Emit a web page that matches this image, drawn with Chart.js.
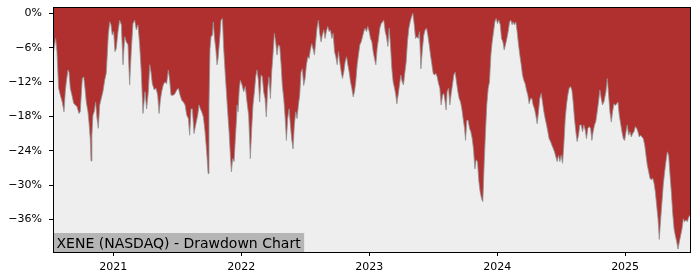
<!DOCTYPE html>
<html>
<head>
<meta charset="utf-8">
<title>XENE Drawdown Chart</title>
<script src="https://cdn.jsdelivr.net/npm/chart.js@4.4.1/dist/chart.umd.min.js"></script>
<style>
  html, body { margin: 0; padding: 0; background: #fff; }
  #chart { display: block; }
</style>
</head>
<body>
<canvas id="chart" width="700" height="280"></canvas>
<script>
// dates are decimal years, drawdown is % below the running peak
const dates = [
  2020.529, 2020.550, 2020.560, 2020.573, 2020.586, 2020.601, 2020.615, 2020.625, 2020.633, 2020.646,
  2020.654, 2020.664, 2020.677, 2020.690, 2020.703, 2020.716, 2020.732, 2020.742, 2020.758, 2020.769,
  2020.779, 2020.789, 2020.802, 2020.810, 2020.820, 2020.826, 2020.833, 2020.841, 2020.851, 2020.862,
  2020.873, 2020.883, 2020.894, 2020.906, 2020.919, 2020.933, 2020.945, 2020.953, 2020.961, 2020.972,
  2020.982, 2020.992, 2021.003, 2021.013, 2021.023, 2021.037, 2021.050, 2021.063, 2021.076, 2021.089,
  2021.102, 2021.115, 2021.128, 2021.141, 2021.154, 2021.167, 2021.180, 2021.193, 2021.206, 2021.219,
  2021.232,
  2021.248, 2021.261, 2021.274, 2021.285, 2021.295, 2021.305, 2021.321, 2021.334, 2021.347, 2021.358,
  2021.368, 2021.378, 2021.391, 2021.404, 2021.417, 2021.430, 2021.441, 2021.451, 2021.470, 2021.483,
  2021.496, 2021.509, 2021.522, 2021.535, 2021.548, 2021.561, 2021.574, 2021.587, 2021.597, 2021.608,
  2021.618, 2021.631, 2021.644, 2021.660, 2021.670, 2021.681, 2021.691, 2021.704, 2021.717, 2021.730,
  2021.741, 2021.748, 2021.756, 2021.764, 2021.775, 2021.782, 2021.790, 2021.801, 2021.811, 2021.819,
  2021.832, 2021.842, 2021.853, 2021.863, 2021.874, 2021.884, 2021.894, 2021.905, 2021.915, 2021.923,
  2021.933, 2021.944, 2021.954, 2021.965,
  2021.967, 2021.975, 2021.985, 2021.993, 2022.006, 2022.019, 2022.032, 2022.045, 2022.058, 2022.071,
  2022.082, 2022.092, 2022.103, 2022.113, 2022.123, 2022.134, 2022.144, 2022.155, 2022.165, 2022.175,
  2022.186, 2022.196, 2022.207, 2022.217, 2022.228, 2022.238, 2022.248, 2022.259, 2022.269, 2022.280,
  2022.290, 2022.301, 2022.311, 2022.321, 2022.332, 2022.342, 2022.353, 2022.363, 2022.374, 2022.384,
  2022.394, 2022.405, 2022.415, 2022.426, 2022.436, 2022.447, 2022.457, 2022.467, 2022.478, 2022.488,
  2022.499, 2022.509, 2022.520, 2022.530, 2022.540, 2022.551, 2022.561, 2022.572, 2022.582, 2022.592,
  2022.603, 2022.613, 2022.624, 2022.634, 2022.645, 2022.655, 2022.665, 2022.676,
  2022.687, 2022.697, 2022.708, 2022.718, 2022.729, 2022.739, 2022.750, 2022.760, 2022.770, 2022.781,
  2022.791, 2022.802, 2022.812, 2022.823, 2022.833, 2022.843, 2022.854, 2022.864, 2022.875, 2022.885,
  2022.895, 2022.906, 2022.916, 2022.927, 2022.937, 2022.948, 2022.958, 2022.968, 2022.979, 2022.989,
  2023.000, 2023.010, 2023.021, 2023.031, 2023.041, 2023.052, 2023.062, 2023.073, 2023.083, 2023.094,
  2023.104, 2023.114, 2023.125, 2023.135, 2023.146, 2023.156, 2023.166, 2023.177, 2023.187, 2023.198,
  2023.208, 2023.216, 2023.226, 2023.237, 2023.247, 2023.258, 2023.268, 2023.279, 2023.289, 2023.299,
  2023.310, 2023.320, 2023.331, 2023.341, 2023.352, 2023.362, 2023.372, 2023.383, 2023.393, 2023.404,
  2023.416, 2023.427, 2023.437, 2023.448, 2023.458, 2023.469, 2023.479, 2023.489, 2023.500, 2023.510,
  2023.521, 2023.531, 2023.542, 2023.552, 2023.562, 2023.573, 2023.583, 2023.594, 2023.601, 2023.609,
  2023.620, 2023.630, 2023.641, 2023.651, 2023.661, 2023.672, 2023.682, 2023.693, 2023.703, 2023.714,
  2023.724, 2023.734, 2023.745, 2023.753, 2023.763, 2023.773, 2023.784, 2023.794, 2023.805, 2023.815,
  2023.826, 2023.836, 2023.846, 2023.857, 2023.867, 2023.878, 2023.888, 2023.899, 2023.909, 2023.919,
  2023.930, 2023.940, 2023.951, 2023.961, 2023.972, 2023.982, 2023.992, 2024.003, 2024.013, 2024.024,
  2024.034, 2024.045, 2024.055, 2024.065, 2024.076, 2024.086, 2024.097, 2024.107, 2024.117,
  2024.125, 2024.135, 2024.146, 2024.156, 2024.167, 2024.177, 2024.188, 2024.198, 2024.208, 2024.219,
  2024.229, 2024.240, 2024.250, 2024.261, 2024.271, 2024.281, 2024.292, 2024.302, 2024.313, 2024.323,
  2024.333, 2024.344, 2024.354, 2024.365, 2024.375, 2024.386, 2024.396, 2024.406, 2024.417, 2024.427,
  2024.438, 2024.448, 2024.459, 2024.469, 2024.479, 2024.490, 2024.500, 2024.511, 2024.521, 2024.532,
  2024.542, 2024.552, 2024.563, 2024.573, 2024.584, 2024.594, 2024.604, 2024.615, 2024.625, 2024.636,
  2024.646, 2024.657, 2024.667, 2024.677, 2024.688, 2024.698, 2024.709, 2024.719, 2024.730, 2024.740,
  2024.750, 2024.761, 2024.771, 2024.782, 2024.792, 2024.803, 2024.813, 2024.823, 2024.834,
  2024.850, 2024.861, 2024.871, 2024.881, 2024.892, 2024.902, 2024.913, 2024.923, 2024.934, 2024.944,
  2024.954, 2024.965, 2024.975, 2024.986, 2024.996, 2025.007, 2025.017, 2025.027, 2025.038, 2025.048,
  2025.059, 2025.069, 2025.080, 2025.090, 2025.100, 2025.111, 2025.121, 2025.132, 2025.142, 2025.153,
  2025.163, 2025.173, 2025.184, 2025.194, 2025.205, 2025.215, 2025.226, 2025.236, 2025.246, 2025.257,
  2025.267, 2025.278, 2025.288, 2025.298, 2025.309, 2025.319, 2025.330, 2025.340, 2025.351, 2025.361,
  2025.371, 2025.382, 2025.392, 2025.403, 2025.413, 2025.424, 2025.434, 2025.445, 2025.455, 2025.465,
  2025.476, 2025.486, 2025.497, 2025.507
];

const drawdown = [
  -7.3, -4.4, -6.7, -13.1, -14.3, -15.5, -17.2, -13.7, -12.0, -9.9,
  -10.3, -13.1, -14.3, -15.7, -16.0, -16.3, -17.5, -17.2, -11.4, -11.1,
  -13.1, -15.5, -17.2, -19.0, -21.9, -25.8, -21.3, -17.8, -17.2, -15.5,
  -18.4, -20.1, -16.0, -14.9, -13.7, -11.7, -10.5, -7.3, -3.8, -1.5,
  -2.0, -3.8, -3.2, -6.7, -6.2, -3.2, -1.2, -2.0, -9.0, -4.1,
  -5.0, -5.5, -12.5, -6.4, -1.8, -1.2, -2.9, -2.0, -5.5, -10.3,
  -17.5,
  -13.7, -16.7, -13.7, -9.0, -10.3, -12.3, -13.4, -13.1, -14.3, -17.5,
  -15.2, -13.7, -12.5, -12.0, -12.3, -9.9, -11.7, -14.3, -14.3, -14.0,
  -13.4, -13.1, -14.3, -15.2, -15.5, -16.0, -17.8, -18.4, -21.3, -16.7,
  -16.7, -21.0, -19.5, -17.8, -16.0, -16.7, -17.2, -18.1, -20.7, -24.2,
  -28.0, -16.0, -6.2, -4.1, -3.8, -1.5, -4.1, -6.2, -9.0, -7.9,
  -4.4, -1.2, -0.9, -6.2, -10.3, -13.7, -17.2, -20.7, -24.8, -27.7,
  -25.4, -25.9, -21.9, -17.8,
  -16.0, -17.2, -13.1, -11.7, -12.5, -13.7, -12.8, -15.5, -17.8, -25.4,
  -20.1, -16.0, -13.7, -11.1, -9.9, -11.7, -15.5, -10.8, -11.1, -13.7,
  -14.9, -18.1, -13.1, -11.1, -14.9, -10.3, -7.3, -3.5, -5.0, -7.3,
  -5.5, -5.8, -8.8, -12.6, -14.9, -17.8, -22.2, -18.4, -16.7, -19.5,
  -21.9, -23.7, -19.5, -17.2, -18.4, -16.0, -14.3, -10.3, -9.7, -12.6,
  -11.4, -9.1, -7.6, -7.9, -6.4, -5.3, -6.2, -7.3, -5.0, -2.6,
  -1.2, -3.5, -5.0, -3.8, -2.9, -4.4, -3.2, -2.3,
  -3.2, -2.9, -4.4, -3.5, -6.7, -7.6, -9.0, -6.7, -8.5, -10.2,
  -11.4, -10.2, -8.5, -7.6, -9.0, -10.2, -12.0, -13.1, -14.6, -13.7,
  -12.0, -9.0, -7.3, -5.5, -5.0, -4.1, -3.2, -2.6, -3.2, -2.3,
  -3.2, -4.4, -5.0, -6.7, -7.9, -9.0, -6.2, -4.4, -2.6, -1.8,
  -1.5, -1.2, -3.2, -4.1, -5.8, -2.6, -5.5, -9.7, -12.0, -13.1,
  -14.3, -15.8, -14.3, -12.5, -10.8, -12.0, -12.5, -10.3, -8.5, -5.0,
  -2.6, -1.5, -0.6, 0.0, -2.0, -4.4, -4.1, -4.4, -3.2, -9.7,
  -6.2, -3.8, -2.9, -2.6, -3.8, -5.5, -7.3, -8.8, -10.5, -10.8,
  -10.5, -11.1, -12.3, -13.1, -16.0, -14.3, -14.0, -15.5, -16.9, -13.7,
  -13.1, -16.0, -14.0, -12.5, -10.8, -10.3, -12.0, -13.7, -14.9, -15.5,
  -16.7, -18.4, -20.1, -22.2, -18.7, -18.7, -20.1, -20.7, -21.9, -23.7,
  -27.2, -25.6, -25.9, -29.4, -31.2, -32.4, -32.9, -25.9, -20.7, -16.0,
  -13.1, -12.0, -7.3, -5.0, -3.2, -1.5, -0.9, -1.8, -1.2, -2.0,
  -4.4, -5.0, -6.4, -5.5, -4.4, -3.2, -1.5, -1.2, -2.0,
  -1.5, -2.0, -1.5, -3.2, -5.5, -7.3, -9.0, -10.8, -11.7, -12.3,
  -13.4, -14.3, -15.8, -14.9, -14.9, -16.0, -16.7, -17.8, -19.3, -17.2,
  -14.9, -14.0, -15.5, -17.2, -18.4, -19.5, -20.7, -21.9, -22.4, -23.0,
  -23.6, -24.2, -25.1, -25.9, -24.8, -25.9, -24.8, -26.2, -23.0, -18.4,
  -16.0, -14.3, -13.1, -12.8, -13.4, -15.5, -18.4, -20.7, -22.4, -21.3,
  -19.5, -19.5, -20.7, -19.5, -20.4, -21.9, -20.1, -19.8, -20.1, -22.2,
  -20.7, -19.5, -18.9, -17.2, -15.5, -13.4, -14.9, -16.0, -15.5,
  -13.7, -11.4, -14.3, -17.2, -19.0, -17.2, -15.8, -16.1, -15.8, -15.5,
  -17.8, -19.3, -20.7, -21.9, -22.2, -20.7, -19.5, -21.3, -20.7, -21.6,
  -21.0, -20.7, -19.8, -20.1, -20.7, -21.6, -21.3, -21.6, -21.9, -23.0,
  -24.8, -26.5, -27.7, -28.8, -29.1, -28.8, -29.7, -31.2, -33.5, -35.9,
  -39.5, -35.9, -33.0, -30.0, -27.7, -25.9, -24.2, -24.8, -28.3, -31.2,
  -34.7, -37.6, -38.8, -39.9, -41.2, -39.9, -38.8, -37.6, -35.9, -36.4,
  -36.1, -36.4, -35.6, -35.3
];

const yearTicks = [2021, 2022, 2023, 2024, 2025];
const pctTicks = [0, -6, -12, -18, -24, -30, -36];
const chartLabel = 'XENE (NASDAQ) - Drawdown Chart';

const X_MIN = 2020.529, X_MAX = 2025.507;
const Y_MIN = -41.7, Y_MAX = 1.1;

const FONT = '"DejaVu Sans", "Liberation Sans", sans-serif';

// light grey panel + black frame + the label box in the lower left corner
const framePlugin = {
    id: 'frame',
    beforeDraw(chart) {
        const { ctx, chartArea: a } = chart;
        ctx.save();
        ctx.fillStyle = '#ffffff';
        ctx.fillRect(0, 0, chart.width, chart.height);
        ctx.fillStyle = '#eeeeee';
        ctx.fillRect(a.left, a.top, a.right - a.left, a.bottom - a.top);
        ctx.restore();
    },
    afterDraw(chart) {
        const { ctx, chartArea: a } = chart;
        ctx.save();
        ctx.font = '14px ' + FONT;
        const w = ctx.measureText(chartLabel).width;
        ctx.fillStyle = '#b5b5b5';
        ctx.fillRect(a.left, a.bottom - 19, w + 7, 19);
        ctx.fillStyle = '#000';
        ctx.textBaseline = 'alphabetic';
        ctx.fillText(chartLabel, a.left + 3.5, a.bottom - 4.5);

        ctx.strokeStyle = '#000';
        ctx.lineWidth = 1;
        ctx.strokeRect(a.left + 0.5, a.top + 0.5, a.right - a.left, a.bottom - a.top);
        ctx.restore();
    }
};

const points = dates.map((d, i) => ({ x: d, y: drawdown[i] }));

new Chart(document.getElementById('chart'), {
    type: 'line',
    data: {
        datasets: [{
            data: points,
            borderColor: '#939393',
            borderWidth: 0.8,
            backgroundColor: '#b03030',
            fill: 'end',
            pointRadius: 0,
            tension: 0
        }]
    },
    options: {
        responsive: false,
        animation: false,
        devicePixelRatio: 1,
        layout: { padding: { top: 7, right: 10, left: 0, bottom: 0 } },
        plugins: {
            legend: { display: false },
            tooltip: { enabled: false }
        },
        scales: {
            x: {
                type: 'linear',
                min: X_MIN,
                max: X_MAX,
                afterBuildTicks: scale => { scale.ticks = yearTicks.map(v => ({ value: v })); },
                afterFit: scale => {
                    scale.height = 28;
                    scale.paddingLeft = 0;
                    scale.paddingRight = 0;
                },
                border: { display: false },
                grid: { drawOnChartArea: false, drawTicks: true, tickLength: 4, color: '#000' },
                ticks: {
                    autoSkip: false,
                    maxRotation: 0,
                    padding: 5,
                    color: '#000',
                    font: { family: FONT, size: 11 },
                    callback: v => String(v)
                }
            },
            y: {
                min: Y_MIN,
                max: Y_MAX,
                afterBuildTicks: scale => { scale.ticks = pctTicks.map(v => ({ value: v })); },
                afterFit: scale => {
                    scale.width = 53;
                    scale.paddingTop = 0;
                    scale.paddingBottom = 0;
                },
                border: { display: false },
                grid: { drawOnChartArea: false, drawTicks: true, tickLength: 4, color: '#000' },
                ticks: {
                    autoSkip: false,
                    padding: 7,
                    color: '#000',
                    font: { family: FONT, size: 11 },
                    callback: v => (v < 0 ? '\u2212' : '') + Math.abs(v) + '%'
                }
            }
        }
    },
    plugins: [framePlugin]
});
</script>
</body>
</html>
